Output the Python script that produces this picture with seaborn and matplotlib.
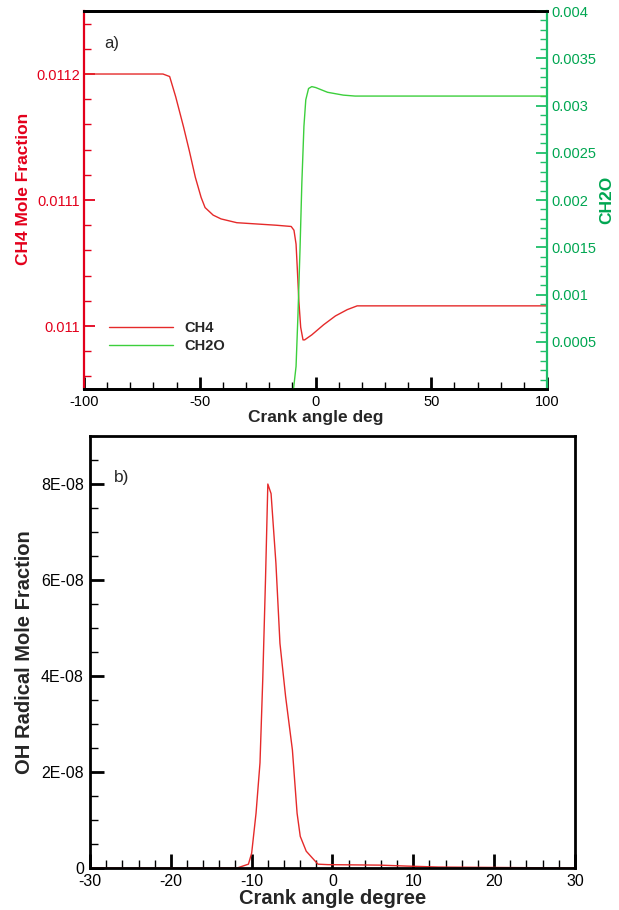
import numpy as np
import pandas as pd
import matplotlib
matplotlib.use("Agg")
import matplotlib.pyplot as plt
import seaborn as sns
from matplotlib.ticker import MultipleLocator, FixedLocator, FixedFormatter

# ---------------- data ----------------
ch4_angle = [-100, -65.9, -63.0, -60.4, -57.0, -54.5, -51.9, -49.4, -47.7, -44.2, -40.8,
             -34.0, -25.5, -17.0, -10.5, -9.3, -8.4, -7.9, -7.2, -6.4, -5.4, -4.7,
             -1.6, 3.5, 8.6, 13.7, 18.0, 100]
ch4_frac = [0.011200, 0.011200, 0.011198, 0.011182, 0.011158, 0.011139, 0.011118, 0.011102,
            0.011094, 0.011088, 0.011085, 0.011082, 0.011081, 0.011080, 0.011079, 0.011076,
            0.011065, 0.011047, 0.011020, 0.010999, 0.010989, 0.010989, 0.010993, 0.011001,
            0.011008, 0.011013, 0.011016, 0.011016]

ch2o_angle = [-9.5, -8.4, -7.6, -6.7, -5.9, -5.0, -4.2, -3.0, -1.6, 0.1, 5.2, 12.0, 17.1, 100]
ch2o_frac = [0.0, 0.00024, 0.00077, 0.00147, 0.00218, 0.00278, 0.00306, 0.00318, 0.00320,
             0.00319, 0.00314, 0.00311, 0.00310, 0.00310]

oh_angle = [-30, -11.8, -10.4, -10.0, -9.46, -8.97, -8.63, -8.29, -8.0, -7.6, -7.0, -6.5,
            -5.8, -4.96, -4.38, -3.99, -3.25, -2.5, -1.8, -0.56, 5.8, 9.2, 13.1, 30]
oh_frac = [0, 0, 0.08e-8, 0.31e-8, 1.14e-8, 2.19e-8, 3.92e-8, 6.0e-8, 8.0e-8, 7.8e-8,
           6.35e-8, 4.68e-8, 3.57e-8, 2.46e-8, 1.14e-8, 0.66e-8, 0.35e-8, 0.21e-8,
           0.08e-8, 0.07e-8, 0.06e-8, 0.04e-8, 0.02e-8, 0]

ch4_ticks = [0.011, 0.0111, 0.0112]
ch4_ticklabels = ["0.011", "0.0111", "0.0112"]
ch2o_ticks = [0.0005, 0.001, 0.0015, 0.002, 0.0025, 0.003, 0.0035, 0.004]
ch2o_ticklabels = ["0.0005", "0.001", "0.0015", "0.002", "0.0025", "0.003", "0.0035", "0.004"]
oh_ticks = [0, 2e-8, 4e-8, 6e-8, 8e-8]
oh_ticklabels = ["0", "2E-08", "4E-08", "6E-08", "8E-08"]

# ---------------- style ----------------
sns.set_style("white")
plt.rcParams["font.family"] = ["Liberation Sans", "DejaVu Sans"]
plt.rcParams["axes.unicode_minus"] = False
plt.rcParams["xtick.direction"] = "in"
plt.rcParams["ytick.direction"] = "in"

RED_TXT = "#e3001b"
RED_LN = "#e52a2a"
GRN_TXT = "#00a651"
GRN_LN = "#3ccf3c"
GRN_AX = "#1fbf6a"

fig = plt.figure(figsize=(6.19, 9.10), dpi=100)

# ---------------- panel a ----------------
ax = fig.add_axes([0.1357, 0.5725, 0.748, 0.4154])
ax2 = ax.twinx()

df_ch4 = pd.DataFrame({"angle": ch4_angle, "frac": ch4_frac})
df_ch2o = pd.DataFrame({"angle": ch2o_angle, "frac": ch2o_frac})
sns.lineplot(data=df_ch4, x="angle", y="frac", ax=ax, color=RED_LN, lw=1.0,
             sort=False, estimator=None, label="CH4", legend=False)
sns.lineplot(data=df_ch2o, x="angle", y="frac", ax=ax2, color=GRN_LN, lw=1.0,
             sort=False, estimator=None, label="CH2O", legend=False)

ax.set_xlim(-100, 100)
ax.set_ylim(0.01095, 0.01125)
ax2.set_ylim(0, 0.004)

ax.xaxis.set_major_locator(MultipleLocator(50))
ax.xaxis.set_minor_locator(MultipleLocator(10))
ax.yaxis.set_major_locator(FixedLocator(ch4_ticks))
ax.yaxis.set_major_formatter(FixedFormatter(ch4_ticklabels))
ax.yaxis.set_minor_locator(MultipleLocator(0.00002))
ax2.yaxis.set_major_locator(FixedLocator(ch2o_ticks))
ax2.yaxis.set_major_formatter(FixedFormatter(ch2o_ticklabels))
ax2.yaxis.set_minor_locator(MultipleLocator(0.0001))

for a in (ax, ax2):
    for s in a.spines.values():
        s.set_linewidth(2.0)
        s.set_color("black")
ax.spines["right"].set_visible(False)
ax2.spines["left"].set_visible(False)
ax.spines["left"].set_color(RED_TXT)
ax.spines["left"].set_linewidth(1.6)
ax2.spines["right"].set_color(GRN_AX)
ax2.spines["right"].set_linewidth(1.6)

ax.tick_params(axis="x", which="major", direction="in", length=9, width=2, colors="black",
               labelsize=10.5, pad=4, top=False, bottom=True)
ax.tick_params(axis="x", which="minor", direction="in", length=5, width=1, colors="black",
               top=False, bottom=True)
ax.tick_params(axis="y", which="major", direction="in", length=8, width=1.3, color=RED_TXT,
               labelcolor=RED_TXT, labelsize=10.5, pad=3, left=True, right=False)
ax.tick_params(axis="y", which="minor", direction="in", length=5, width=1, color=RED_TXT,
               left=True, right=False)
ax2.tick_params(axis="y", which="major", direction="in", length=8, width=1.3, color=GRN_AX,
                labelcolor=GRN_TXT, labelsize=10.5, pad=3, right=True, left=False)
ax2.tick_params(axis="y", which="minor", direction="in", length=5, width=1, color=GRN_AX,
                right=True, left=False)
ax2.tick_params(axis="x", which="both", bottom=False, top=False)

ax.set_xlabel("Crank angle deg", fontsize=12.5, fontweight="bold", labelpad=1)
ax.set_ylabel("CH4 Mole Fraction", fontsize=12.5, fontweight="bold", color=RED_TXT)
ax.yaxis.set_label_coords(-0.115, 0.53)
ax2.set_ylabel("CH2O", fontsize=12.5, fontweight="bold", color=GRN_TXT)
ax2.yaxis.set_label_coords(1.113, 0.5)

ax.text(0.044, 0.915, "a)", transform=ax.transAxes, fontsize=12, ha="left", va="center")

h1, l1 = ax.get_legend_handles_labels()
h2, l2 = ax2.get_legend_handles_labels()
leg = ax2.legend(h1 + h2, l1 + l2, loc="center left", bbox_to_anchor=(0.053, 0.138),
                 frameon=False, borderpad=0, borderaxespad=0, handlelength=4.4,
                 handletextpad=0.8, labelspacing=0.25, prop={"size": 10.5, "weight": "bold"})

# ---------------- panel b ----------------
bx = fig.add_axes([0.1454, 0.04615, 0.7835, 0.4747])
df_oh = pd.DataFrame({"angle": oh_angle, "frac": oh_frac})
sns.lineplot(data=df_oh, x="angle", y="frac", ax=bx, color=RED_LN, lw=1.0,
             sort=False, estimator=None, legend=False)
bx.set_xlim(-30, 30)
bx.set_ylim(0, 9e-8)
bx.xaxis.set_major_locator(MultipleLocator(10))
bx.xaxis.set_minor_locator(MultipleLocator(2))
bx.yaxis.set_major_locator(FixedLocator(oh_ticks))
bx.yaxis.set_major_formatter(FixedFormatter(oh_ticklabels))
bx.yaxis.set_minor_locator(MultipleLocator(0.5e-8))
for s in bx.spines.values():
    s.set_linewidth(2.0)
    s.set_color("black")
bx.tick_params(axis="both", which="major", direction="in", length=10, width=2,
               colors="black", labelsize=11.5, pad=4.5, top=False, right=False,
               bottom=True, left=True)
bx.tick_params(axis="both", which="minor", direction="in", length=6, width=1,
               colors="black", top=False, right=False, bottom=True, left=True)
bx.set_xlabel("Crank angle degree", fontsize=14.5, fontweight="bold", labelpad=0)
bx.set_ylabel("OH Radical Mole Fraction", fontsize=14.5, fontweight="bold")
bx.yaxis.set_label_coords(-0.1165, 0.5)
bx.text(0.05, 0.905, "b)", transform=bx.transAxes, fontsize=12.5, ha="left", va="center")

fig.savefig("out.png", dpi=100)
